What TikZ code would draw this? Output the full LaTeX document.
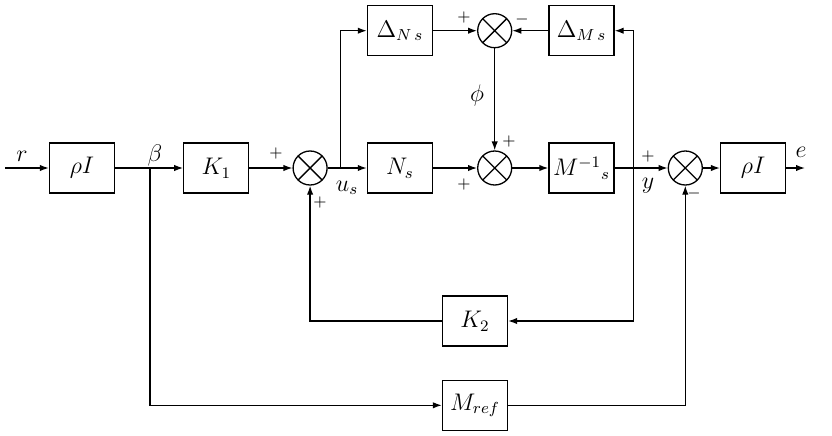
\documentclass[tikz,border=0pt]{standalone}
\usetikzlibrary{positioning,arrows.meta,calc}

\begin{document}
\begin{tikzpicture}[
  x=0.5pt, y=0.5pt,
  line width=0.65pt,
  font=\large,
  >={Latex[length=4.5pt,width=3.2pt]},
  blk/.style={draw, minimum width=32.5pt, minimum height=25pt, inner sep=2pt},
  sum/.style={circle, draw, minimum size=17pt, inner sep=0pt,
              path picture={\draw (path picture bounding box.north west) -- (path picture bounding box.south east)
                                  (path picture bounding box.north east) -- (path picture bounding box.south west);}},
  flow/.style={->},
  lbl/.style={inner sep=0pt},
  sgn/.style={font=\footnotesize, inner sep=0pt},
  node distance=20pt,
]
\useasboundingbox (0,0) rectangle (832,-435);

% ---- forward path ----
\node[blk] (rhoin) at (82,-168) {$\rho I$};
\node[blk, right=34pt of rhoin] (k1) {$K_1$};
\node[sum, right=21.5pt of k1] (s1) {};
\node[blk, right=19.5pt of s1] (ns) {$N_s$};
\node[sum, right=22pt of ns] (s2) {};
\node[blk, right=18pt of s2] (minv) {$M^{-1}{}_{s}$};
\node[sum, right=26.5pt of minv] (s3) {};
\node[blk, right=8.5pt of s3] (rhoout) {$\rho I$};

% ---- uncertainty row ----
\node[blk, above=43pt of ns] (dns) {$\Delta_{N\,s}$};
\node[sum] (st) at (s2 |- dns) {};
\node[blk] (dms) at (minv |- dns) {$\Delta_{M\,s}$};

% ---- feedback / reference model ----
\node[blk] (k2) at (475,-321) {$K_2$};
\node[blk, below=16.5pt of k2] (mref) {$M_{ref}$};

% ---- branch points ----
\coordinate (in) at (5,-168);
\coordinate (out) at (805,-168);
\coordinate (beta) at (150,-168);
\coordinate (us) at ($(s1.east)+(12.5,0)$);
\coordinate (yb) at ($(minv.east)+(18.5,0)$);

% ---- flows ----
\draw[flow] (in) -- (rhoin);
\draw[flow] (rhoin) -- (k1);
\draw[flow] (k1) -- (s1);
\draw[flow] (s1) -- (ns);
\draw[flow] (us) |- (dns);
\draw[flow] (dns) -- (st);
\draw[flow] (dms) -- (st);
\draw[flow] (st) -- (s2);
\draw[flow] (ns) -- (s2);
\draw[flow] (s2) -- (minv);
\draw[flow] (minv) -- (s3);
\draw[flow] (yb) |- (dms);
\draw[flow] (yb) |- (k2);
\draw[flow] (k2) -| (s1);
\draw[flow] (beta) |- (mref);
\draw[flow] (mref) -| (s3);
\draw[flow] (s3) -- (rhoout);
\draw[flow] (rhoout) -- (out);

% ---- signal labels ----
\node[lbl] at (22,-156) {$r$};
\node[lbl] at (155,-155) {$\beta$};
\node[lbl] at (347,-188) {$u_s$};
\node[lbl] at (477,-95) {$\phi$};
\node[lbl] at (648,-186) {$y$};
\node[lbl] at (801,-152) {$e$};

% ---- signs ----
\node[sgn] at (276,-153) {$+$};
\node[sgn] at (320,-202) {$+$};
\node[sgn] at (464,-17) {$+$};
\node[sgn] at (522,-19) {$-$};
\node[sgn] at (509,-141) {$+$};
\node[sgn] at (464,-184) {$+$};
\node[sgn] at (648,-156) {$+$};
\node[sgn] at (694,-193) {$-$};
\end{tikzpicture}
\end{document}
